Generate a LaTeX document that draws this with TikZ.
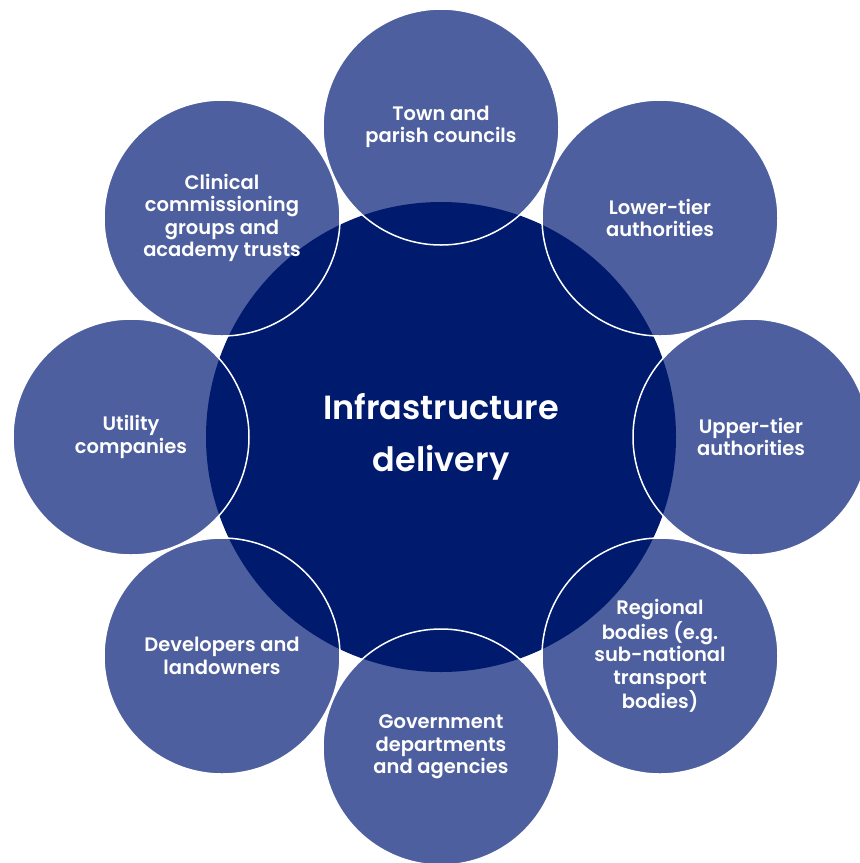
\documentclass[tikz,border=0pt]{standalone}
\usepackage{fontspec}
\setmainfont{Poppins SemiBold}
\usetikzlibrary{backgrounds}
\definecolor{ringblue}{HTML}{4D5F9E}
\definecolor{hubnavy}{HTML}{001A6E}

\begin{document}
\begin{tikzpicture}[
    x=1pt, y=-1pt,
    every node/.style={circle, align=center, text=white, font=\fontsize{19.5}{22.5}\selectfont},
    spoke/.style={draw=white, line width=1.5pt, minimum size=236pt, inner sep=0pt},
    hub/.style={fill=hubnavy, minimum size=470pt, inner sep=0pt, font=\fontsize{33.5}{52}\selectfont}
]
\useasboundingbox (0,0) rectangle (860,863);

% centre
\node[hub] (hub) at (441,437) {Infrastructure\\delivery};

% ring of partners, clockwise from the top
\node[spoke] (town) at (441,127) {Town and\\parish councils};
\node[spoke] (lower) at (660,218) {Lower-tier\\authorities};
\node[spoke] (upper) at (751,437) {Upper-tier\\authorities};
\node[spoke] (regional) at (660,656) {Regional\\bodies (e.g.\\sub-national\\transport\\bodies)};
\node[spoke] (govt) at (441,747) {Government\\departments\\and agencies};
\node[spoke] (developers) at (222,656) {Developers and\\landowners};
\node[spoke] (utility) at (131,437) {Utility\\companies};
\node[spoke] (clinical) at (222,218) {Clinical\\commissioning\\groups and\\academy trusts};

% fills sit under the hub
\begin{pgfonlayer}{background}
\foreach \n in {town,lower,upper,regional,govt,developers,utility,clinical}
    \fill[ringblue] (\n.center) circle (118pt);
\end{pgfonlayer}

\end{tikzpicture}
\end{document}
